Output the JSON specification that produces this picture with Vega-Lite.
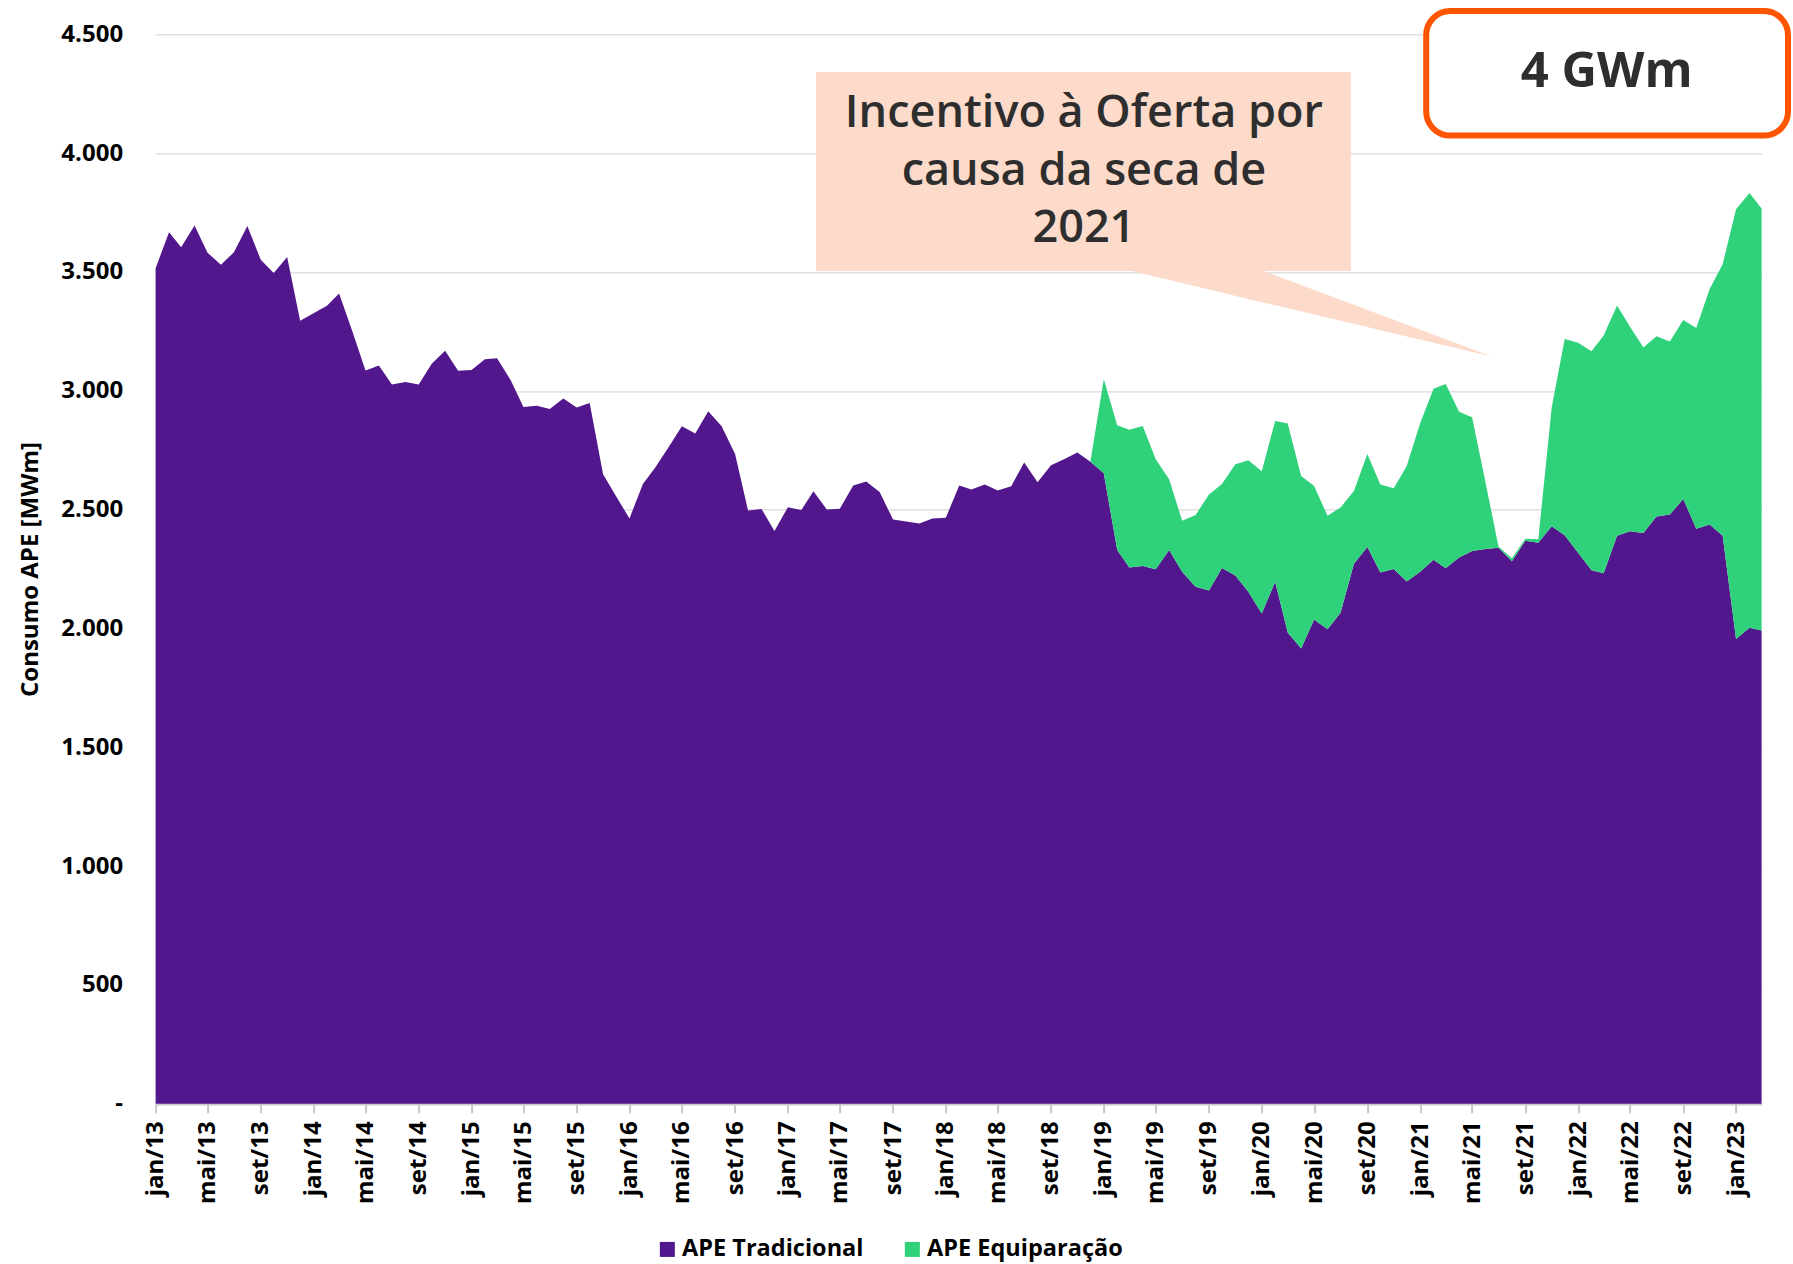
{
  "$schema": "https://vega.github.io/schema/vega-lite/v6.json",
  "width": 1606,
  "height": 1069.5,
  "autosize": {"type": "none"},
  "padding": {"left": 155.6, "top": 34.3, "right": 31.4, "bottom": 160.2},
  "background": "white",
  "config": {"view": {"stroke": null}, "font": "Open Sans"},
  "datasets": {
    "series": [
      {"mes":"2013-01-01","serie":"APE Tradicional","mwm":3516},
      {"mes":"2013-02-01","serie":"APE Tradicional","mwm":3667},
      {"mes":"2013-03-01","serie":"APE Tradicional","mwm":3604},
      {"mes":"2013-04-01","serie":"APE Tradicional","mwm":3695},
      {"mes":"2013-05-01","serie":"APE Tradicional","mwm":3581},
      {"mes":"2013-06-01","serie":"APE Tradicional","mwm":3530},
      {"mes":"2013-07-01","serie":"APE Tradicional","mwm":3583},
      {"mes":"2013-08-01","serie":"APE Tradicional","mwm":3693},
      {"mes":"2013-09-01","serie":"APE Tradicional","mwm":3551},
      {"mes":"2013-10-01","serie":"APE Tradicional","mwm":3496},
      {"mes":"2013-11-01","serie":"APE Tradicional","mwm":3563},
      {"mes":"2013-12-01","serie":"APE Tradicional","mwm":3295},
      {"mes":"2014-01-01","serie":"APE Tradicional","mwm":3326},
      {"mes":"2014-02-01","serie":"APE Tradicional","mwm":3358},
      {"mes":"2014-03-01","serie":"APE Tradicional","mwm":3409},
      {"mes":"2014-04-01","serie":"APE Tradicional","mwm":3248},
      {"mes":"2014-05-01","serie":"APE Tradicional","mwm":3085},
      {"mes":"2014-06-01","serie":"APE Tradicional","mwm":3106},
      {"mes":"2014-07-01","serie":"APE Tradicional","mwm":3027},
      {"mes":"2014-08-01","serie":"APE Tradicional","mwm":3037},
      {"mes":"2014-09-01","serie":"APE Tradicional","mwm":3027},
      {"mes":"2014-10-01","serie":"APE Tradicional","mwm":3114},
      {"mes":"2014-11-01","serie":"APE Tradicional","mwm":3168},
      {"mes":"2014-12-01","serie":"APE Tradicional","mwm":3084},
      {"mes":"2015-01-01","serie":"APE Tradicional","mwm":3088},
      {"mes":"2015-02-01","serie":"APE Tradicional","mwm":3133},
      {"mes":"2015-03-01","serie":"APE Tradicional","mwm":3137},
      {"mes":"2015-04-01","serie":"APE Tradicional","mwm":3046},
      {"mes":"2015-05-01","serie":"APE Tradicional","mwm":2932},
      {"mes":"2015-06-01","serie":"APE Tradicional","mwm":2937},
      {"mes":"2015-07-01","serie":"APE Tradicional","mwm":2923},
      {"mes":"2015-08-01","serie":"APE Tradicional","mwm":2968},
      {"mes":"2015-09-01","serie":"APE Tradicional","mwm":2930},
      {"mes":"2015-10-01","serie":"APE Tradicional","mwm":2949},
      {"mes":"2015-11-01","serie":"APE Tradicional","mwm":2649},
      {"mes":"2015-12-01","serie":"APE Tradicional","mwm":2556},
      {"mes":"2016-01-01","serie":"APE Tradicional","mwm":2463},
      {"mes":"2016-02-01","serie":"APE Tradicional","mwm":2608},
      {"mes":"2016-03-01","serie":"APE Tradicional","mwm":2678},
      {"mes":"2016-04-01","serie":"APE Tradicional","mwm":2765},
      {"mes":"2016-05-01","serie":"APE Tradicional","mwm":2851},
      {"mes":"2016-06-01","serie":"APE Tradicional","mwm":2820},
      {"mes":"2016-07-01","serie":"APE Tradicional","mwm":2914},
      {"mes":"2016-08-01","serie":"APE Tradicional","mwm":2851},
      {"mes":"2016-09-01","serie":"APE Tradicional","mwm":2734},
      {"mes":"2016-10-01","serie":"APE Tradicional","mwm":2496},
      {"mes":"2016-11-01","serie":"APE Tradicional","mwm":2503},
      {"mes":"2016-12-01","serie":"APE Tradicional","mwm":2410},
      {"mes":"2017-01-01","serie":"APE Tradicional","mwm":2510},
      {"mes":"2017-02-01","serie":"APE Tradicional","mwm":2498},
      {"mes":"2017-03-01","serie":"APE Tradicional","mwm":2577},
      {"mes":"2017-04-01","serie":"APE Tradicional","mwm":2501},
      {"mes":"2017-05-01","serie":"APE Tradicional","mwm":2504},
      {"mes":"2017-06-01","serie":"APE Tradicional","mwm":2602},
      {"mes":"2017-07-01","serie":"APE Tradicional","mwm":2618},
      {"mes":"2017-08-01","serie":"APE Tradicional","mwm":2574},
      {"mes":"2017-09-01","serie":"APE Tradicional","mwm":2458},
      {"mes":"2017-10-01","serie":"APE Tradicional","mwm":2450},
      {"mes":"2017-11-01","serie":"APE Tradicional","mwm":2442},
      {"mes":"2017-12-01","serie":"APE Tradicional","mwm":2463},
      {"mes":"2018-01-01","serie":"APE Tradicional","mwm":2466},
      {"mes":"2018-02-01","serie":"APE Tradicional","mwm":2602},
      {"mes":"2018-03-01","serie":"APE Tradicional","mwm":2585},
      {"mes":"2018-04-01","serie":"APE Tradicional","mwm":2606},
      {"mes":"2018-05-01","serie":"APE Tradicional","mwm":2580},
      {"mes":"2018-06-01","serie":"APE Tradicional","mwm":2598},
      {"mes":"2018-07-01","serie":"APE Tradicional","mwm":2698},
      {"mes":"2018-08-01","serie":"APE Tradicional","mwm":2615},
      {"mes":"2018-09-01","serie":"APE Tradicional","mwm":2687},
      {"mes":"2018-10-01","serie":"APE Tradicional","mwm":2712},
      {"mes":"2018-11-01","serie":"APE Tradicional","mwm":2740},
      {"mes":"2018-12-01","serie":"APE Tradicional","mwm":2702},
      {"mes":"2019-01-01","serie":"APE Tradicional","mwm":2653},
      {"mes":"2019-02-01","serie":"APE Tradicional","mwm":2330},
      {"mes":"2019-03-01","serie":"APE Tradicional","mwm":2257},
      {"mes":"2019-04-01","serie":"APE Tradicional","mwm":2263},
      {"mes":"2019-05-01","serie":"APE Tradicional","mwm":2249},
      {"mes":"2019-06-01","serie":"APE Tradicional","mwm":2330},
      {"mes":"2019-07-01","serie":"APE Tradicional","mwm":2239},
      {"mes":"2019-08-01","serie":"APE Tradicional","mwm":2176},
      {"mes":"2019-09-01","serie":"APE Tradicional","mwm":2160},
      {"mes":"2019-10-01","serie":"APE Tradicional","mwm":2254},
      {"mes":"2019-11-01","serie":"APE Tradicional","mwm":2223},
      {"mes":"2019-12-01","serie":"APE Tradicional","mwm":2155},
      {"mes":"2020-01-01","serie":"APE Tradicional","mwm":2063},
      {"mes":"2020-02-01","serie":"APE Tradicional","mwm":2197},
      {"mes":"2020-03-01","serie":"APE Tradicional","mwm":1983},
      {"mes":"2020-04-01","serie":"APE Tradicional","mwm":1916},
      {"mes":"2020-05-01","serie":"APE Tradicional","mwm":2038},
      {"mes":"2020-06-01","serie":"APE Tradicional","mwm":1997},
      {"mes":"2020-07-01","serie":"APE Tradicional","mwm":2066},
      {"mes":"2020-08-01","serie":"APE Tradicional","mwm":2272},
      {"mes":"2020-09-01","serie":"APE Tradicional","mwm":2343},
      {"mes":"2020-10-01","serie":"APE Tradicional","mwm":2236},
      {"mes":"2020-11-01","serie":"APE Tradicional","mwm":2250},
      {"mes":"2020-12-01","serie":"APE Tradicional","mwm":2198},
      {"mes":"2021-01-01","serie":"APE Tradicional","mwm":2239},
      {"mes":"2021-02-01","serie":"APE Tradicional","mwm":2289},
      {"mes":"2021-03-01","serie":"APE Tradicional","mwm":2253},
      {"mes":"2021-04-01","serie":"APE Tradicional","mwm":2299},
      {"mes":"2021-05-01","serie":"APE Tradicional","mwm":2326},
      {"mes":"2021-06-01","serie":"APE Tradicional","mwm":2334},
      {"mes":"2021-07-01","serie":"APE Tradicional","mwm":2340},
      {"mes":"2021-08-01","serie":"APE Tradicional","mwm":2283},
      {"mes":"2021-09-01","serie":"APE Tradicional","mwm":2369},
      {"mes":"2021-10-01","serie":"APE Tradicional","mwm":2361},
      {"mes":"2021-11-01","serie":"APE Tradicional","mwm":2430},
      {"mes":"2021-12-01","serie":"APE Tradicional","mwm":2392},
      {"mes":"2022-01-01","serie":"APE Tradicional","mwm":2319},
      {"mes":"2022-02-01","serie":"APE Tradicional","mwm":2245},
      {"mes":"2022-03-01","serie":"APE Tradicional","mwm":2232},
      {"mes":"2022-04-01","serie":"APE Tradicional","mwm":2390},
      {"mes":"2022-05-01","serie":"APE Tradicional","mwm":2409},
      {"mes":"2022-06-01","serie":"APE Tradicional","mwm":2402},
      {"mes":"2022-07-01","serie":"APE Tradicional","mwm":2471},
      {"mes":"2022-08-01","serie":"APE Tradicional","mwm":2480},
      {"mes":"2022-09-01","serie":"APE Tradicional","mwm":2545},
      {"mes":"2022-10-01","serie":"APE Tradicional","mwm":2420},
      {"mes":"2022-11-01","serie":"APE Tradicional","mwm":2437},
      {"mes":"2022-12-01","serie":"APE Tradicional","mwm":2390},
      {"mes":"2023-01-01","serie":"APE Tradicional","mwm":1956},
      {"mes":"2023-02-01","serie":"APE Tradicional","mwm":2003},
      {"mes":"2023-03-01","serie":"APE Tradicional","mwm":1991},
      {"mes":"2018-12-01","serie":"APE Equiparação","mwm":0},
      {"mes":"2019-01-01","serie":"APE Equiparação","mwm":396},
      {"mes":"2019-02-01","serie":"APE Equiparação","mwm":525},
      {"mes":"2019-03-01","serie":"APE Equiparação","mwm":579},
      {"mes":"2019-04-01","serie":"APE Equiparação","mwm":589},
      {"mes":"2019-05-01","serie":"APE Equiparação","mwm":463},
      {"mes":"2019-06-01","serie":"APE Equiparação","mwm":298},
      {"mes":"2019-07-01","serie":"APE Equiparação","mwm":214},
      {"mes":"2019-08-01","serie":"APE Equiparação","mwm":301},
      {"mes":"2019-09-01","serie":"APE Equiparação","mwm":404},
      {"mes":"2019-10-01","serie":"APE Equiparação","mwm":354},
      {"mes":"2019-11-01","serie":"APE Equiparação","mwm":468},
      {"mes":"2019-12-01","serie":"APE Equiparação","mwm":553},
      {"mes":"2020-01-01","serie":"APE Equiparação","mwm":599},
      {"mes":"2020-02-01","serie":"APE Equiparação","mwm":676},
      {"mes":"2020-03-01","serie":"APE Equiparação","mwm":879},
      {"mes":"2020-04-01","serie":"APE Equiparação","mwm":725},
      {"mes":"2020-05-01","serie":"APE Equiparação","mwm":561},
      {"mes":"2020-06-01","serie":"APE Equiparação","mwm":477},
      {"mes":"2020-07-01","serie":"APE Equiparação","mwm":443},
      {"mes":"2020-08-01","serie":"APE Equiparação","mwm":306},
      {"mes":"2020-09-01","serie":"APE Equiparação","mwm":391},
      {"mes":"2020-10-01","serie":"APE Equiparação","mwm":370},
      {"mes":"2020-11-01","serie":"APE Equiparação","mwm":340},
      {"mes":"2020-12-01","serie":"APE Equiparação","mwm":486},
      {"mes":"2021-01-01","serie":"APE Equiparação","mwm":624},
      {"mes":"2021-02-01","serie":"APE Equiparação","mwm":720},
      {"mes":"2021-03-01","serie":"APE Equiparação","mwm":776},
      {"mes":"2021-04-01","serie":"APE Equiparação","mwm":613},
      {"mes":"2021-05-01","serie":"APE Equiparação","mwm":563},
      {"mes":"2021-06-01","serie":"APE Equiparação","mwm":281},
      {"mes":"2021-07-01","serie":"APE Equiparação","mwm":5},
      {"mes":"2021-08-01","serie":"APE Equiparação","mwm":12},
      {"mes":"2021-09-01","serie":"APE Equiparação","mwm":9},
      {"mes":"2021-10-01","serie":"APE Equiparação","mwm":14},
      {"mes":"2021-11-01","serie":"APE Equiparação","mwm":500},
      {"mes":"2021-12-01","serie":"APE Equiparação","mwm":826},
      {"mes":"2022-01-01","serie":"APE Equiparação","mwm":883},
      {"mes":"2022-02-01","serie":"APE Equiparação","mwm":921},
      {"mes":"2022-03-01","serie":"APE Equiparação","mwm":1001},
      {"mes":"2022-04-01","serie":"APE Equiparação","mwm":969},
      {"mes":"2022-05-01","serie":"APE Equiparação","mwm":860},
      {"mes":"2022-06-01","serie":"APE Equiparação","mwm":780},
      {"mes":"2022-07-01","serie":"APE Equiparação","mwm":758},
      {"mes":"2022-08-01","serie":"APE Equiparação","mwm":727},
      {"mes":"2022-09-01","serie":"APE Equiparação","mwm":753},
      {"mes":"2022-10-01","serie":"APE Equiparação","mwm":844},
      {"mes":"2022-11-01","serie":"APE Equiparação","mwm":991},
      {"mes":"2022-12-01","serie":"APE Equiparação","mwm":1142},
      {"mes":"2023-01-01","serie":"APE Equiparação","mwm":1808},
      {"mes":"2023-02-01","serie":"APE Equiparação","mwm":1829},
      {"mes":"2023-03-01","serie":"APE Equiparação","mwm":1776}
    ],
    "seta": [
      {"mes":"2019-03-07","baixo":3504,"alto":3560},
      {"mes":"2020-01-06","baixo":3371,"alto":3504},
      {"mes":"2021-06-17","baixo":3143,"alto":3143}
    ],
    "caixa": [{"ini":"2017-03-07","fim":"2020-07-25","topo":4341,"base":3504}],
    "caixa_gwm": [{"ini":"2021-01-15","fim":"2023-05-01","topo":4598,"base":4074}],
    "textos": [
      {"mes":"2018-11-16","v":4110,"t":"Incentivo à Oferta por"},
      {"mes":"2018-11-16","v":3865,"t":"causa da seca de"},
      {"mes":"2018-11-16","v":3626,"t":"2021"}
    ],
    "gwm": [{"mes":"2022-03-08","v":4279,"t":"4 GWm"}]
  },
  "encoding": {
    "x": {
      "type": "temporal",
      "scale": {"type": "utc", "domain": [{"year":2013,"month":1,"date":1,"utc":true},{"year":2023,"month":3,"date":1,"utc":true}]},
      "axis": {
        "title": null,
        "values": [
          {"year":2013,"month":1,"date":1,"utc":true},{"year":2013,"month":5,"date":1,"utc":true},{"year":2013,"month":9,"date":1,"utc":true},
          {"year":2014,"month":1,"date":1,"utc":true},{"year":2014,"month":5,"date":1,"utc":true},{"year":2014,"month":9,"date":1,"utc":true},
          {"year":2015,"month":1,"date":1,"utc":true},{"year":2015,"month":5,"date":1,"utc":true},{"year":2015,"month":9,"date":1,"utc":true},
          {"year":2016,"month":1,"date":1,"utc":true},{"year":2016,"month":5,"date":1,"utc":true},{"year":2016,"month":9,"date":1,"utc":true},
          {"year":2017,"month":1,"date":1,"utc":true},{"year":2017,"month":5,"date":1,"utc":true},{"year":2017,"month":9,"date":1,"utc":true},
          {"year":2018,"month":1,"date":1,"utc":true},{"year":2018,"month":5,"date":1,"utc":true},{"year":2018,"month":9,"date":1,"utc":true},
          {"year":2019,"month":1,"date":1,"utc":true},{"year":2019,"month":5,"date":1,"utc":true},{"year":2019,"month":9,"date":1,"utc":true},
          {"year":2020,"month":1,"date":1,"utc":true},{"year":2020,"month":5,"date":1,"utc":true},{"year":2020,"month":9,"date":1,"utc":true},
          {"year":2021,"month":1,"date":1,"utc":true},{"year":2021,"month":5,"date":1,"utc":true},{"year":2021,"month":9,"date":1,"utc":true},
          {"year":2022,"month":1,"date":1,"utc":true},{"year":2022,"month":5,"date":1,"utc":true},{"year":2022,"month":9,"date":1,"utc":true},
          {"year":2023,"month":1,"date":1,"utc":true}
        ],
        "labelExpr": "['jan','fev','mar','abr','mai','jun','jul','ago','set','out','nov','dez'][utcmonth(datum.value)] + '/' + utcFormat(datum.value, '%y')",
        "labelAngle": 270,
        "labelFont": "Open Sans",
        "labelFontSize": 24,
        "labelFontWeight": "bold",
        "labelColor": "#000000",
        "labelPadding": 8,
        "labelOverlap": false,
        "labelFlush": false,
        "tickSize": 9,
        "tickColor": "#C8C8C8",
        "tickWidth": 2,
        "domainColor": "#C8C8C8",
        "domainWidth": 2,
        "grid": false
      }
    },
    "y": {
      "type": "quantitative",
      "scale": {"domain": [0, 4500], "nice": false},
      "axis": {
        "title": "Consumo APE [MWm]",
        "titleFont": "Open Sans",
        "titleFontSize": 24,
        "titleFontWeight": "bold",
        "titleColor": "#000000",
        "titlePadding": 18,
        "values": [0, 500, 1000, 1500, 2000, 2500, 3000, 3500, 4000, 4500],
        "labelExpr": "datum.value == 0 ? '-' : replace(format(datum.value, ','), ',', '.')",
        "labelFont": "Open Sans",
        "labelFontSize": 24,
        "labelFontWeight": "bold",
        "labelColor": "#000000",
        "labelPadding": 33,
        "ticks": false,
        "domain": false,
        "grid": true,
        "gridColor": "#D9D9D9",
        "gridWidth": 1.3
      }
    }
  },
  "layer": [
    {
      "data": {"name": "series"},
      "mark": {"type": "area", "opacity": 1, "interpolate": "linear"},
      "encoding": {
        "x": {"field": "mes"},
        "y": {"field": "mwm", "stack": "zero"},
        "color": {
          "field": "serie", "type": "nominal",
          "scale": {"domain": ["APE Tradicional", "APE Equiparação"], "range": ["#52178C", "#2FD17A"]},
          "legend": {
            "title": null,
            "orient": "none",
            "legendX": 500,
            "legendY": 1203,
            "direction": "horizontal",
            "symbolType": "square",
            "symbolSize": 225,
            "symbolOpacity": 1,
            "symbolStrokeWidth": 0,
            "labelFont": "Open Sans",
            "labelFontSize": 23.5,
            "labelFontWeight": "bold",
            "labelColor": "#000000",
            "labelLimit": 400,
            "labelOffset": 3,
            "columnPadding": 37
          }
        },
        "order": {"field": "serie", "sort": "descending"}
      }
    },
    {
      "data": {"name": "seta"},
      "mark": {"type": "area", "color": "#FDDBCB", "opacity": 1},
      "encoding": {
        "x": {"field": "mes"},
        "y": {"field": "baixo"},
        "y2": {"field": "alto"}
      }
    },
    {
      "data": {"name": "caixa"},
      "mark": {"type": "rect", "color": "#FDDBCB", "opacity": 1},
      "encoding": {
        "x": {"field": "ini"},
        "x2": {"field": "fim"},
        "y": {"field": "topo"},
        "y2": {"field": "base"}
      }
    },
    {
      "data": {"name": "caixa_gwm"},
      "mark": {"type": "rect", "fill": "#FFFFFF", "stroke": "#FF5500", "strokeWidth": 6, "cornerRadius": 24, "opacity": 1},
      "encoding": {
        "x": {"field": "ini"},
        "x2": {"field": "fim"},
        "y": {"field": "topo"},
        "y2": {"field": "base"}
      }
    },
    {
      "data": {"name": "textos"},
      "mark": {"type": "text", "font": "Open Sans", "fontSize": 45, "fontWeight": 600, "color": "#2E2E2E", "align": "center", "baseline": "alphabetic"},
      "encoding": {
        "x": {"field": "mes"},
        "y": {"field": "v"},
        "text": {"field": "t"}
      }
    },
    {
      "data": {"name": "gwm"},
      "mark": {"type": "text", "font": "Open Sans", "fontSize": 49, "fontWeight": "bold", "color": "#2E2E2E", "align": "center", "baseline": "alphabetic"},
      "encoding": {
        "x": {"field": "mes"},
        "y": {"field": "v"},
        "text": {"field": "t"}
      }
    }
  ]
}
